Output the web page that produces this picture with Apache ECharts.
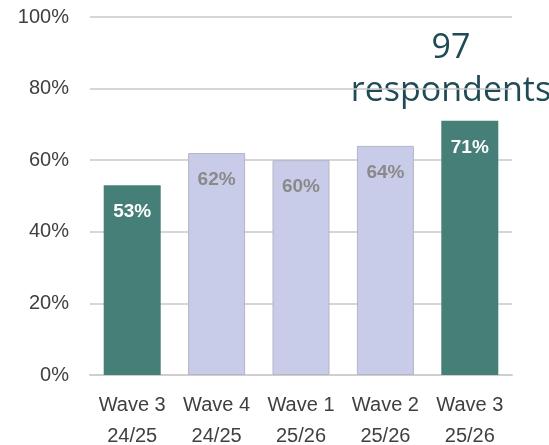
<!DOCTYPE html>
<html>
<head>
<meta charset="utf-8">
<script src="https://cdn.jsdelivr.net/npm/echarts@6/dist/echarts.min.js"></script>
<style>
  html, body { margin: 0; padding: 0; background: #fff; }
  #chart { width: 549px; height: 445px; }
</style>
</head>
<body>
<div id="chart"></div>
<script>
// Survey waves and share of respondents (%)
const categories = ['Wave 3\n24/25', 'Wave 4\n24/25', 'Wave 1\n25/26', 'Wave 2\n25/26', 'Wave 3\n25/26'];
const values = [53, 62, 60, 64, 71];
const highlighted = [true, false, false, false, true];
const yTicks = [0, 20, 40, 60, 80, 100];
const noteLines = ['97', 'respondents'];

const TEAL = '#457f77';
const LAVENDER = '#c8cce8';
const FONT = '"Liberation Sans", Arial, sans-serif';

const chart = echarts.init(document.getElementById('chart'));

const barData = values.map((v, i) => ({
  value: v,
  itemStyle: highlighted[i]
    ? { color: TEAL, borderColor: TEAL, borderWidth: 0 }
    : { color: LAVENDER, borderColor: '#b4b6c6', borderWidth: 1 },
  label: { color: highlighted[i] ? '#ffffff' : '#8a8a8a' }
}));

chart.setOption({
  animation: false,
  grid: { left: 90, right: 37, top: 17, bottom: 70, containLabel: false, outerBoundsMode: 'none' },
  xAxis: {
    type: 'category',
    data: categories,
    axisLine: { show: true, lineStyle: { color: '#cfcfcf', width: 2 } },
    axisTick: { show: false },
    axisLabel: {
      interval: 0,
      color: '#404040',
      fontFamily: FONT,
      fontSize: 20,
      lineHeight: 31,
      margin: 15
    }
  },
  yAxis: {
    type: 'value',
    min: 0,
    max: 100,
    interval: 20,
    axisLine: { show: false },
    axisTick: { show: false },
    splitLine: { lineStyle: { color: '#c9c9c9', width: 1.5 } },
    axisLabel: {
      color: '#404040',
      fontFamily: FONT,
      fontSize: 20,
      margin: 21,
      formatter: v => (yTicks.includes(v) ? v + '%' : '')
    }
  },
  series: [{
    type: 'bar',
    data: barData,
    barWidth: 57,
    label: {
      show: true,
      position: 'insideTop',
      distance: 17,
      fontFamily: FONT,
      fontWeight: 'bold',
      fontSize: 19,
      formatter: p => p.value + '%'
    }
  }],
  graphic: noteLines.map((t, i) => ({
    type: 'text',
    x: 451,
    y: 48 + i * 43,
    style: {
      text: t,
      align: 'center',
      verticalAlign: 'middle',
      fill: '#1f4b55',
      font: '34px "Open Sans", "Noto Sans", sans-serif'
    }
  }))
});
</script>
</body>
</html>
